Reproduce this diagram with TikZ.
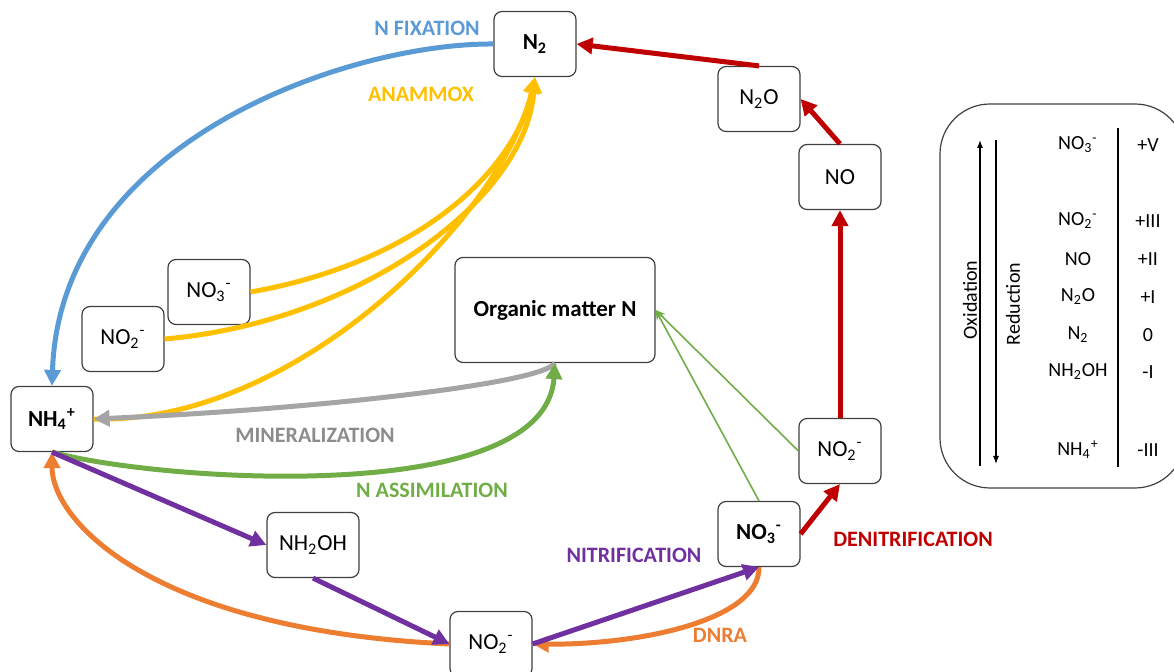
\documentclass[tikz,border=0pt]{standalone}
\usepackage{fontspec}
\setmainfont{Carlito}
\usetikzlibrary{arrows.meta}
\definecolor{fixblue}{HTML}{5B9BD5}
\definecolor{anaylw}{HTML}{FFC000}
\definecolor{mingray}{HTML}{A5A5A5}
\definecolor{assgreen}{HTML}{70AD47}
\definecolor{nitpurple}{HTML}{7030A0}
\definecolor{dnrorange}{HTML}{ED7D31}
\definecolor{denred}{HTML}{C00000}
\begin{document}
\begin{tikzpicture}[x=0.5pt,y=-0.5pt,
  sp/.style={draw=black!75,line width=0.6pt,rounded corners=4pt,fill=white,minimum width=41pt,minimum height=32.5pt,inner sep=1pt,font=\fontsize{11.5}{13}\selectfont},
  lbl/.style={font=\fontsize{11}{13}\selectfont\bfseries,inner sep=0pt},
  flow/.style={line width=2.5pt,-{Triangle[length=8pt,width=8pt]}},
  leg/.style={font=\fontsize{10}{12}\selectfont,inner sep=1pt}]
  \useasboundingbox (0,0) rectangle (1174,672);
  % species
  \node[sp,font=\fontsize{11.5}{13}\selectfont\bfseries] (n2) at (535,44){N\textsubscript{2}};
  \node[sp] (n2o) at (759,99){N\textsubscript{2}O};
  \node[sp] (no) at (840,177){NO};
  \node[sp,minimum width=100pt,minimum height=52.5pt] (org) at (555,310){\textbf{Organic matter N}};
  \node[sp] (no3l) at (209,292){NO\textsubscript{3}\textsuperscript{-}};
  \node[sp] (no2l) at (123,339){NO\textsubscript{2}\textsuperscript{-}};
  \node[sp] (nh4) at (52,419){\textbf{NH\textsubscript{4}\textsuperscript{+}}};
  \node[sp,minimum width=46pt] (nh2oh) at (313,545){NH\textsubscript{2}OH};
  \node[sp] (no2b) at (491,644){NO\textsubscript{2}\textsuperscript{-}};
  \node[sp] (no3r) at (759,534){\textbf{NO\textsubscript{3}\textsuperscript{-}}};
  \node[sp] (no2r) at (840,451){NO\textsubscript{2}\textsuperscript{-}};
  % processes
  \node[lbl,text=fixblue] (lfix) at (427,28){N FIXATION};
  \node[lbl,text=anaylw] (lana) at (421,94){ANAMMOX};
  \node[lbl,text=mingray!85!black] (lmin) at (315,435){MINERALIZATION};
  \node[lbl,text=assgreen] (lass) at (432,490){N ASSIMILATION};
  \node[lbl,text=nitpurple] (lnit) at (634,555){NITRIFICATION};
  \node[lbl,text=dnrorange] (ldnra) at (720,635){DNRA};
  \node[lbl,text=denred] (lden) at (913,539){DENITRIFICATION};
  \draw[flow,fixblue] (n2.west) .. controls (350,43) and (60,140) .. (nh4.north);
  \draw[flow,anaylw] (no3l.east) .. controls (420,262) and (515,170) .. (n2.south);
  \draw[flow,anaylw] (no2l.east) .. controls (360,322) and (525,200) .. (n2.south);
  \draw[flow,anaylw] (nh4.east) .. controls (300,425) and (505,210) .. (n2.south);
  \draw[flow,mingray] (org.south) .. controls (540,385) and (300,410) .. (nh4.east);
  \draw[flow,assgreen] (nh4.south) .. controls (150,480) and (545,510) .. (org.south);
  \draw[assgreen,line width=0.8pt,-{Stealth[length=5pt,width=4pt]}] (no3r.north) -- (org.east);
  \draw[assgreen,line width=0.8pt,-{Stealth[length=5pt,width=4pt]}] (no2r.west) -- (org.east);
  \draw[flow,dnrorange] (no3r.south) .. controls (760,620) and (640,645) .. (no2b.east);
  \draw[flow,dnrorange] (no2b.west) .. controls (150,630) and (52,520) .. (nh4.south);
  \draw[flow,nitpurple] (nh4.south) -- (nh2oh.west);
  \draw[flow,nitpurple] (nh2oh.south) -- (no2b.west);
  \draw[flow,nitpurple] (no2b.east) -- (no3r.south);
  \draw[flow,denred] (no3r.east) -- (no2r.south);
  \draw[flow,denred] (no2r.north) -- (no.south);
  \draw[flow,denred] (no.north) -- (n2o.east);
  \draw[flow,denred] (n2o.north) -- (n2.east);
  % oxidation states
  \node[draw=black!75,line width=0.6pt,rounded corners=25pt,minimum width=122.5pt,minimum height=192pt] (legbox) at (1062.5,296){};
  \coordinate (oxlo) at (980,466);
  \coordinate (oxhi) at (980,140);
  \coordinate (redhi) at (996,140);
  \coordinate (redlo) at (996,464);
  \coordinate (septop) at (1118,128);
  \coordinate (sepbot) at (1118,467);
  \draw[line width=0.6pt,-{Latex[length=4pt,width=3pt]}] (oxlo) -- (oxhi);
  \draw[line width=0.6pt,-{Latex[length=4pt,width=3pt]}] (redhi) -- (redlo);
  \draw[line width=0.6pt] (septop) -- (sepbot);
  \node[leg,rotate=90] (lox) at (970,300){Oxidation};
  \node[leg,rotate=90] (lred) at (1013,304){Reduction};
  \node[leg] (sno3) at (1078,145){NO\textsubscript{3}\textsuperscript{-}};
  \node[leg] (vno3) at (1148,145){+V};
  \node[leg] (sno2) at (1078,221){NO\textsubscript{2}\textsuperscript{-}};
  \node[leg] (vno2) at (1148,221){+III};
  \node[leg] (sno) at (1078,259){NO};
  \node[leg] (vno) at (1148,259){+II};
  \node[leg] (sn2o) at (1078,297){N\textsubscript{2}O};
  \node[leg] (vn2o) at (1148,297){+I};
  \node[leg] (sn2) at (1078,335){N\textsubscript{2}};
  \node[leg] (vn2) at (1148,335){0};
  \node[leg] (snh2oh) at (1078,372){NH\textsubscript{2}OH};
  \node[leg] (vnh2oh) at (1148,372){-I};
  \node[leg] (snh4) at (1078,450){NH\textsubscript{4}\textsuperscript{+}};
  \node[leg] (vnh4) at (1148,450){-III};
\end{tikzpicture}
\end{document}
